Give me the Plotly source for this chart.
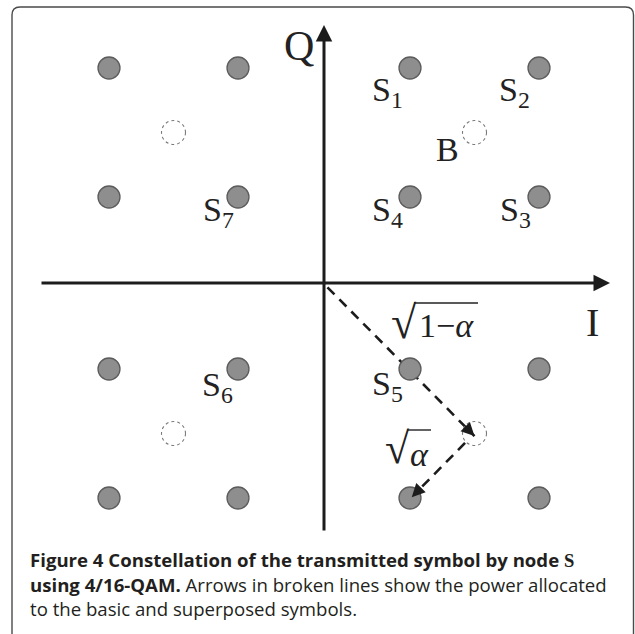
import plotly.graph_objects as go

# ---------------- data ----------------
# 16-QAM superposed symbols (I, Q) in units of the inner symbol offset
sym_I = [-2.5, -1, 1, 2.5, -2.5, -1, 1, 2.5, -2.5, -1, 1, 2.5, -2.5, -1, 1, 2.5]
sym_Q = [2.5, 2.5, 2.5, 2.5, 1, 1, 1, 1, -1, -1, -1, -1, -2.5, -2.5, -2.5, -2.5]
# 4-QAM basic symbols (dashed circles)
base_I = [-1.75, 1.75, -1.75, 1.75]
base_Q = [1.75, 1.75, -1.75, -1.75]
# symbol labels
label_text = ["S<sub>1</sub>", "S<sub>2</sub>", "S<sub>3</sub>", "S<sub>4</sub>",
              "S<sub>5</sub>", "S<sub>6</sub>", "S<sub>7</sub>", "B"]
label_I = [0.74, 2.21, 2.23, 0.74, 0.74, -1.24, -1.23, 1.44]
label_Q = [2.22, 2.22, 0.83, 0.83, -1.20, -1.21, 0.83, 1.55]
# power allocation arrows: origin -> basic symbol -> superposed symbol
arrow1_I = [0.04, 1.75]
arrow1_Q = [-0.05, -1.78]
arrow2_I = [1.64, 1.02]
arrow2_Q = [-1.86, -2.49]

caption_lines = [
    "<b>Figure 4 Constellation of the transmitted symbol by node </b>"
    "<span style=\"font-family:'Liberation Serif'\"><b>S</b></span>",
    "<b>using 4/16-QAM.</b> Arrows in broken lines show the power allocated",
    "to the basic and superposed symbols.",
]

# ---------------- layout constants ----------------
W, H = 635, 634
U = 86.0                 # pixels per unit
SX, SY = 324, 283        # origin in pixels
xr = [-SX / U, (W - SX) / U]
yr = [(SY - H) / U, SY / U]

AX = "#1c1c1c"
SERIF = "Liberation Serif"


def ux(sx):
    return (sx - SX) / U


def uy(sy):
    return (SY - sy) / U


def px(sx):
    return sx / W


def py(sy):
    return 1 - sy / H


fig = go.Figure()

# dashed power arrows (lines)
for xi, yi in [(arrow1_I, arrow1_Q), (arrow2_I, arrow2_Q)]:
    fig.add_trace(go.Scatter(x=xi, y=yi, mode="lines",
                             line=dict(color=AX, width=2.6, dash="10px,7px"),
                             hoverinfo="skip", showlegend=False))

# superposed symbols
fig.add_trace(go.Scatter(x=sym_I, y=sym_Q, mode="markers",
                         marker=dict(size=22, color="#8e8e8e",
                                     line=dict(color="#5c5c5c", width=1.3)),
                         hoverinfo="skip", showlegend=False))

shapes = []
r = 12 / U
for bi, bq in zip(base_I, base_Q):
    shapes.append(dict(type="circle", xref="x", yref="y",
                       x0=bi - r, x1=bi + r, y0=bq - r, y1=bq + r,
                       line=dict(color="#7a7a7a", width=1.1, dash="dot")))

# sqrt overlines
shapes.append(dict(type="line", xref="x", yref="y", x0=ux(414), x1=ux(478), y0=uy(303), y1=uy(303),
                   line=dict(color="#222", width=1.4)))
shapes.append(dict(type="line", xref="x", yref="y", x0=ux(407), x1=ux(431), y0=uy(430), y1=uy(430),
                   line=dict(color="#222", width=1.4)))

# figure frame (rounded, open at bottom)
L, T, R, B_ = 12, 7, 633.5, 660
rr = 8
path = (f"M {px(L)},{py(B_)} L {px(L)},{py(T + rr)} Q {px(L)},{py(T)} {px(L + rr)},{py(T)} "
        f"L {px(R - rr)},{py(T)} Q {px(R)},{py(T)} {px(R)},{py(T + rr)} L {px(R)},{py(B_)}")
shapes.append(dict(type="path", xref="paper", yref="paper", path=path,
                   line=dict(color="#4a4a4a", width=1.4)))

annotations = []
# axes with arrows
annotations.append(dict(x=ux(610), y=0, ax=ux(40), ay=0,
                        xref="x", yref="y", axref="x", ayref="y", text="",
                        showarrow=True, arrowhead=2, arrowsize=1.1, arrowwidth=3,
                        arrowcolor=AX, standoff=0))
annotations.append(dict(x=0, y=uy(25), ax=0, ay=uy(532),
                        xref="x", yref="y", axref="x", ayref="y", text="",
                        showarrow=True, arrowhead=2, arrowsize=1.1, arrowwidth=3,
                        arrowcolor=AX, standoff=0))
# arrowheads of dashed arrows
for xi, yi in [(arrow1_I, arrow1_Q), (arrow2_I, arrow2_Q)]:
    dx = xi[1] - xi[0]
    dy = yi[1] - yi[0]
    n = (dx ** 2 + dy ** 2) ** 0.5
    annotations.append(dict(x=xi[1], y=yi[1], ax=xi[1] - dx / n * 0.15, ay=yi[1] - dy / n * 0.15,
                            xref="x", yref="y", axref="x", ayref="y", text="",
                            showarrow=True, arrowhead=2, arrowsize=1.1, arrowwidth=2.4,
                            arrowcolor=AX, standoff=0))

# axis names
annotations.append(dict(x=ux(299), y=uy(46), xref="x", yref="y", text="Q",
                        showarrow=False, font=dict(family=SERIF, size=42, color="#222")))
annotations.append(dict(x=ux(592), y=uy(322), xref="x", yref="y", text="I",
                        showarrow=False, font=dict(family=SERIF, size=40, color="#222")))

for t, li, lq in zip(label_text, label_I, label_Q):
    annotations.append(dict(x=li, y=lq, xref="x", yref="y", text=t, showarrow=False,
                            font=dict(family=SERIF, size=34, color="#222")))

# sqrt labels
annotations.append(dict(x=ux(404), y=uy(322), xref="x", yref="y", text="√", showarrow=False,
                        font=dict(family=SERIF, size=46, color="#222")))
annotations.append(dict(x=ux(446), y=uy(325), xref="x", yref="y", text="1−<i>α</i>", showarrow=False,
                        font=dict(family=SERIF, size=34, color="#222")))
annotations.append(dict(x=ux(397), y=uy(448), xref="x", yref="y", text="√", showarrow=False,
                        font=dict(family=SERIF, size=44, color="#222")))
annotations.append(dict(x=ux(419), y=uy(454), xref="x", yref="y", text="<i>α</i>", showarrow=False,
                        font=dict(family=SERIF, size=34, color="#222")))

# caption
cap_y = [559, 584, 608]
for line, yy in zip(caption_lines, cap_y):
    annotations.append(dict(x=px(28), y=py(yy), xref="paper", yref="paper", text=line,
                            showarrow=False, xanchor="left", yanchor="middle",
                            font=dict(family="Open Sans", size=18.6, color="#231f20")))

fig.update_layout(
    width=W, height=H, margin=dict(l=0, r=0, t=0, b=0),
    paper_bgcolor="white", plot_bgcolor="white",
    xaxis=dict(range=xr, visible=False, fixedrange=True),
    yaxis=dict(range=yr, visible=False, fixedrange=True),
    shapes=shapes, annotations=annotations, showlegend=False,
)

fig.write_html("out.html",
               config={"displayModeBar": False, "staticPlot": True},
               post_script="document.body.style.margin='0';"
                           "document.body.style.overflow='hidden';")
